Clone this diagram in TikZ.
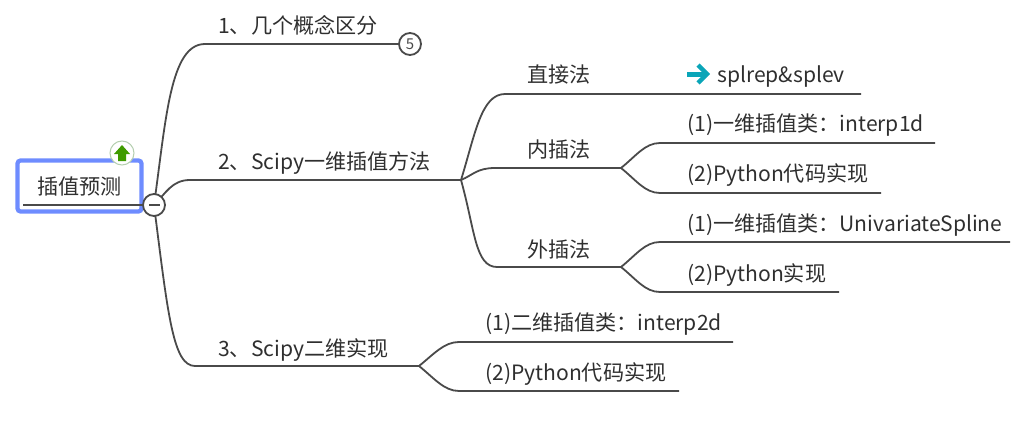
\documentclass[tikz,border=0pt]{standalone}
\usepackage{fontspec}
\setmainfont{Noto Sans CJK SC}
\definecolor{linegray}{HTML}{4A4A4A}
\definecolor{textgray}{HTML}{2F2F2F}
\definecolor{rootblue}{HTML}{6E8CFF}
\definecolor{arrowteal}{HTML}{0AA5B8}
\definecolor{iconrim}{HTML}{B5CFB0}
\definecolor{icongreen}{HTML}{3F9B00}
\tikzset{
    branch/.style={draw=linegray,line width=1.8pt},
    label/.style={anchor=base west,inner sep=0pt,text=textgray,font=\fontsize{21.1}{24}\selectfont},
    rootbox/.style={draw=rootblue,line width=4.2pt,rounded corners=3pt,minimum width=124pt,minimum height=51pt,inner sep=0pt,text=textgray,font=\fontsize{21.1}{24}\selectfont},
    badge/.style={circle,draw=linegray,fill=white,line width=1.8pt,minimum size=22pt,inner sep=0pt,text=linegray,font=\fontsize{15}{17}\selectfont}
}
\begin{document}
\begin{tikzpicture}[x=1pt,y=-1pt]
\useasboundingbox (0,0) rectangle (1031,439);

% Forks and the ends of the lines
\coordinate (hub) at (154,205);
\coordinate (forkB) at (461,180);
\coordinate (forkIn) at (621,168);
\coordinate (forkOut) at (621,267);
\coordinate (forkC) at (419,366);
\foreach \name/\x/\y in {bendA/205/44,bendB/190/180,bendC/195/366,
    bendD/505/94,tipD/861/94,bendIn/495/168,bendOut/497/267,
    bendE/660/143,tipE/935/143,bendF/660/193,tipF/881/193,
    bendG/660/242,tipG/1010/242,bendH/660/292,tipH/839/292,
    bendI/459/342,tipI/733/342,bendJ/459/391,tipJ/679/391,
    lineL/23/205,lineR/143/205} {
    \coordinate (\name) at (\x,\y);
}

% Root and its underline
\node[rootbox] (root) at (79.5,186) {插值预测};
\draw[branch] (lineL) -- (lineR);

% First level
\node[badge] (count) at (410,44) {5};
\draw[branch] (hub) .. controls +(12,-85) and +(-35,0) .. (bendA) -- (count);
\draw[branch] (hub) .. controls +(12,-12) and +(-18,0) .. (bendB) -- (forkB);
\draw[branch] (hub) .. controls +(14,110) and +(-22,0) .. (bendC) -- (forkC);
\node[badge] (minus) at (hub) {};
\draw[branch] (149,205) -- (160,205);

% Second level
\draw[branch] (forkB) .. controls +(14,-45) and +(-24,0) .. (bendD) -- (tipD);
\draw[branch] (forkB) .. controls +(12,-5) and +(-18,0) .. (bendIn) -- (forkIn);
\draw[branch] (forkB) .. controls +(14,50) and +(-22,0) .. (bendOut) -- (forkOut);

% Leaves
\foreach \fork/\bend/\tip/\dy in {forkIn/bendE/tipE/-12,forkIn/bendF/tipF/12,
    forkOut/bendG/tipG/-12,forkOut/bendH/tipH/12,
    forkC/bendI/tipI/-12,forkC/bendJ/tipJ/12} {
    \draw[branch] (\fork) .. controls +(15,\dy) and +(-15,0) .. (\bend) -- (\tip);
}

% Labels
\node[label] (topicA) at (218,33) {1、几个概念区分};
\node[label] (topicB) at (218,169) {2、Scipy一维插值方法};
\node[label] (topicC) at (218,356) {3、Scipy二维实现};
\node[label] (direct) at (527,82) {直接法};
\node[label] (inner) at (527,157) {内插法};
\node[label] (outer) at (527,257) {外插法};
\node[label] (spl) at (717,82) {splrep\&splev};
\node[label] (leafE) at (687,131) {(1)一维插值类：interp1d};
\node[label] (leafF) at (687,181) {(2)Python代码实现};
\node[label] (leafG) at (687,231) {(1)一维插值类：UnivariateSpline};
\node[label] (leafH) at (687,281) {(2)Python实现};
\node[label] (leafI) at (485,330) {(1)二维插值类：interp2d};
\node[label] (leafJ) at (485,380) {(2)Python代码实现};

% Icons
\draw[arrowteal,line width=5pt] (687,74) -- (706,74);
\draw[arrowteal,line width=4.5pt] (698,65) -- (707,74) -- (698,83);
\node[circle,draw=iconrim,fill=white,line width=1pt,minimum size=24pt,inner sep=0pt] (up) at (122,153) {};
\fill[icongreen] (122,145) -- (130,154) -- (126,154) -- (126,161) -- (118,161) -- (118,154) -- (114,154) -- cycle;

\end{tikzpicture}
\end{document}
